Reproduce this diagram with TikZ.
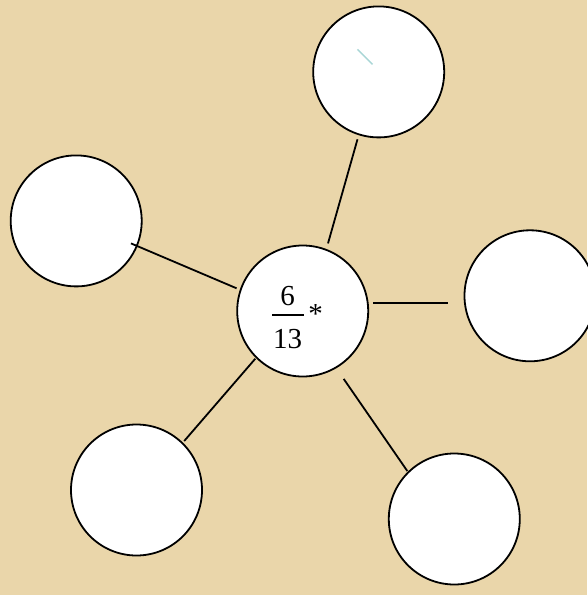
\documentclass[tikz,border=0pt]{standalone}
\usepackage{fontspec}
\setmainfont{Liberation Serif}
\definecolor{paper}{RGB}{234,214,170}
\definecolor{tealmark}{RGB}{168,214,214}
\tikzset{
  ball/.style={circle, draw=black, fill=white, line width=1.8pt, minimum size=131pt, inner sep=0pt},
  link/.style={draw=black, line width=1.8pt},
  digits/.style={inner sep=0pt, font=\fontsize{29}{31}\selectfont}
}
\begin{document}
\begin{tikzpicture}[x=1pt,y=-1pt]
  \useasboundingbox (0,0) rectangle (587,595);
  \fill[paper] (0,0) rectangle (587,595);
  % circles
  \node[ball] (c)  at (302.7,311) {};
  \node[ball] (t)  at (378.7,71.9) {};
  \node[ball] (l)  at (76.2,220.9) {};
  \node[ball] (r)  at (530,295.8) {};
  \node[ball] (bl) at (136.5,490) {};
  \node[ball] (br) at (454.3,519) {};
  % connector end points
  \coordinate (t1) at (357.5,139.3);  \coordinate (t2) at (328,243.4);
  \coordinate (l1) at (131,243.4);    \coordinate (l2) at (236.6,288.3);
  \coordinate (r1) at (373.3,303.3);  \coordinate (r2) at (448.1,303.3);
  \coordinate (b1) at (255.3,358.7);  \coordinate (b2) at (184.2,441);
  \coordinate (d1) at (343.7,378.9);  \coordinate (d2) at (407.3,471);
  \draw[link] (t1) -- (t2);
  \draw[link] (l1) -- (l2);
  \draw[link] (r1) -- (r2);
  \draw[link] (b1) -- (b2);
  \draw[link] (d1) -- (d2);
  % teal mark
  \coordinate (m1) at (357.5,49.4); \coordinate (m2) at (372.5,64.4);
  \draw[tealmark, line width=1.5pt] (m1) -- (m2);
  % fraction
  \node[digits] (num) at (287.5,296) {6};
  \node[digits] (den) at (287.5,339) {13};
  \coordinate (bar1) at (272,315); \coordinate (bar2) at (303.6,315);
  \draw[black, line width=1.2pt] (bar1) -- (bar2);
  \node[digits] (ast) at (315.6,314) {*};
\end{tikzpicture}
\end{document}
